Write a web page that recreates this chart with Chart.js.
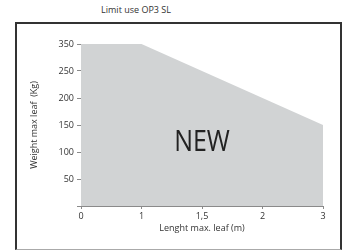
<!DOCTYPE html>
<html>
<head>
<meta charset="utf-8">
<script src="https://cdn.jsdelivr.net/npm/chart.js@4"></script>
<style>
  body { margin: 0; width: 342px; height: 250px; background: #fff; overflow: hidden; position: relative; font-family: "Open Sans", sans-serif; }
  #title { position: absolute; left: 76px; width: 120px; top: 3px; text-align: center; font-size: 9px; color: #333; }
  #frame { position: absolute; left: 15px; top: 22px; width: 323px; height: 225px;
           border: 2px solid #333; border-bottom: 1px solid #aaa; }
  #frame canvas { display: block; }
</style>
</head>
<body>
<div id="title">Limit use OP3 SL</div>
<div id="frame"><canvas id="chart" width="323" height="225"></canvas></div>
<script>
// valori
const lengthLabels = ['0', '1', '1,5', '2', '3'];
const weightLabels = ['0', '50', '100', '150', '200', '250', '350'];
const maxWeight    = ['350', '350', '250', '200', '150'];

const TEXT = '#333';
const AXIS = '#8a8a8a';

// scritta "NEW" in mezzo all'area
const newLabel = {
  id: 'newLabel',
  afterDatasetsDraw(chart) {
    const { ctx, chartArea: a } = chart;
    ctx.save();
    ctx.translate((a.left + a.right) / 2, a.top + (a.bottom - a.top) * 0.61);
    ctx.scale(0.86, 1);
    ctx.font = '29px "Open Sans", sans-serif';
    ctx.fillStyle = '#222';
    ctx.textAlign = 'center';
    ctx.textBaseline = 'middle';
    ctx.fillText('NEW', 0, 0);
    ctx.restore();
  }
};

new Chart(document.getElementById('chart'), {
  type: 'line',
  data: {
    labels: lengthLabels,
    datasets: [{
      data: maxWeight,
      fill: 'start',
      backgroundColor: '#d1d3d4',
      borderWidth: 0,
      pointRadius: 0,
      tension: 0,
    }],
  },
  options: {
    responsive: false,
    animation: false,
    layout: { padding: { left: 0, top: 20, right: 17, bottom: 0 } },
    plugins: { legend: { display: false }, tooltip: { enabled: false } },
    scales: {
      x: {
        type: 'category',
        offset: false,
        border: { color: AXIS, width: 1 },
        grid: { drawOnChartArea: false, color: AXIS, tickLength: 3 },
        ticks: { color: TEXT, font: { family: 'Open Sans', size: 9 }, padding: 2, maxRotation: 0 },
        title: { display: true, text: 'Lenght max. leaf (m)', color: TEXT,
                 font: { family: 'Open Sans', size: 9 }, padding: { top: 0, bottom: 15 } },
        afterFit: s => { s.height = 43; },
      },
      y: {
        type: 'category',
        labels: weightLabels,
        reverse: true,
        offset: false,
        border: { color: AXIS, width: 1 },
        grid: { drawOnChartArea: false, color: AXIS, tickLength: 4 },
        ticks: { color: TEXT, font: { family: 'Open Sans', size: 9 }, padding: 3,
                 callback: function (v) { const l = this.getLabelForValue(v); return l === '0' ? '' : l; } },
        title: { display: true, text: 'Weight max leaf  (Kg)', color: TEXT,
                 font: { family: 'Open Sans', size: 9 }, padding: { top: 12, bottom: 0 } },
        afterFit: s => { s.width = 64; },
      },
    },
  },
  plugins: [newLabel],
});
</script>
</body>
</html>
